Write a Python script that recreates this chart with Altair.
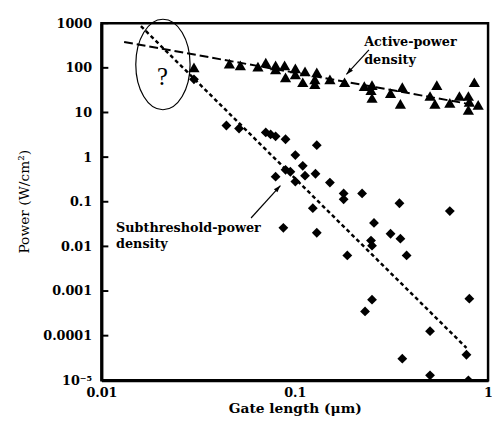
import altair as alt
import pandas as pd

# ---- data ----
# Active-power density (triangles)
active_x = [0.0301, 0.0459, 0.0523, 0.0645, 0.0708, 0.0796, 0.0886, 0.0796, 0.1007,
            0.113, 0.130, 0.1007, 0.0896, 0.110, 0.127, 0.127, 0.152, 0.181, 0.229,
            0.251, 0.248, 0.251, 0.313, 0.360, 0.352, 0.501, 0.543, 0.531, 0.634,
            0.711, 0.791, 0.849, 0.800, 0.889, 0.791]
active_y = [102, 125, 113, 107, 131, 113, 113, 92, 96.9,
            83.2, 79.1, 71.4, 61.4, 47.6, 55.4, 43.0, 55.4, 47.6, 38.9,
            40.9, 31.7, 21.1, 27.2, 36.9, 15.6, 23.4, 40.9, 15.6, 16.4,
            23.4, 23.4, 47.6, 17.3, 14.8, 11.5]

# Subthreshold-power density (diamonds)
sub_x = [0.0301, 0.0443, 0.0515, 0.0708, 0.0750, 0.0796, 0.0896, 0.130, 0.1007, 0.110,
         0.0896, 0.0949, 0.0796, 0.113, 0.128, 0.1007, 0.152, 0.179, 0.179, 0.223,
         0.348, 0.634, 0.124, 0.0873, 0.130, 0.257, 0.313, 0.352, 0.248, 0.251,
         0.187, 0.379, 0.251, 0.800, 0.231, 0.501, 0.773, 0.360, 0.501, 0.791]
sub_y = [55.4, 5.1, 4.38, 3.58, 3.23, 2.92, 2.51, 1.85, 1.11, 0.637,
         0.520, 0.470, 0.365, 0.384, 0.425, 0.283, 0.269, 0.154, 0.1135, 0.154,
         0.0927, 0.0618, 0.0719, 0.0261, 0.0202, 0.0336, 0.0192, 0.0149, 0.0135, 0.0104,
         0.00629, 0.00629, 0.000641, 0.000675, 0.000349, 0.000126, 3.74e-5, 3.05e-5, 1.29e-5, 1.0e-5]

# Trend lines
active_fit_x = [0.0131, 0.899]
active_fit_y = [381, 14.1]
sub_fit_x = [0.0160, 0.773]
sub_fit_y = [859, 5.33e-5]

# Axis ticks
x_tick_values = [0.01, 0.1, 1]
x_tick_labels = ["0.01", "0.1", "1"]
y_tick_values = [1000, 100, 10, 1, 0.1, 0.01, 0.001, 0.0001, 0.00001]
y_tick_labels = ["1000", "100", "10", "1", "0.1", "0.01", "0.001", "0.0001", "10⁻⁵"]

# Annotations
annot_text = ["Active-power", "density", "Subthreshold-power", "density"]
annot_x = [0.2286, 0.2286, 0.0119, 0.0119]
annot_y = [381, 153, 0.0261, 0.011]
arrow_x = [0.242, 0.0594]
arrow_y = [254, 0.0433]
arrow_x2 = [0.185, 0.0843]
arrow_y2 = [71.4, 0.231]
arrow_angle = [222.6, 42.3]
ellipse_x = [0.0208]
ellipse_y = [119]
qmark_x = [0.0207]
qmark_y = [61.4]

# ---- chart ----
SERIF = "DejaVu Serif"

def label_expr(values, labels):
    vals = ",".join(repr(v) for v in values)
    labs = ",".join("'" + l + "'" for l in labels)
    return f"[{labs}][indexof([{vals}], datum.value)]"

x_scale = alt.Scale(type="log", domain=[0.01, 1], nice=False)
y_scale = alt.Scale(type="log", domain=[0.00001, 1000], nice=False)

x_axis = alt.Axis(values=x_tick_values, labelExpr=label_expr(x_tick_values, x_tick_labels),
                  title="Gate length (μm)", titleFont=SERIF, titleFontSize=14,
                  titleFontWeight="bold", titleY=22, labelPadding=6,
                  labelFlush=False, ticks=False, grid=False)
y_axis = alt.Axis(values=y_tick_values, labelExpr=label_expr(y_tick_values, y_tick_labels),
                  title="Power  (W/cm²)", titleFont=SERIF, titleFontSize=14,
                  titleFontWeight="normal", titleX=-71, titleY=181, titleAngle=270,
                  labelPadding=10, labelFlush=False, ticks=False, grid=False)

def X(f):
    return alt.X(f, type="quantitative", scale=x_scale, axis=x_axis)

def Y(f):
    return alt.Y(f, type="quantitative", scale=y_scale, axis=y_axis)

active_df = pd.DataFrame({"x": active_x, "y": active_y})
sub_df = pd.DataFrame({"x": sub_x, "y": sub_y})
afit_df = pd.DataFrame({"x": active_fit_x, "y": active_fit_y})
sfit_df = pd.DataFrame({"x": sub_fit_x, "y": sub_fit_y})
annot_df = pd.DataFrame({"x": annot_x, "y": annot_y, "t": annot_text})
arrow_df = pd.DataFrame({"x": arrow_x, "y": arrow_y, "x2": arrow_x2, "y2": arrow_y2,
                         "a": arrow_angle})
ell_df = pd.DataFrame({"x": ellipse_x, "y": ellipse_y})
q_df = pd.DataFrame({"x": qmark_x, "y": qmark_y})
ytick_df = pd.DataFrame({"v": y_tick_values})

ellipse_path = ("M0,-1 C0.331,-1 0.6,-0.552 0.6,0 C0.6,0.552 0.331,1 0,1 "
                "C-0.331,1 -0.6,0.552 -0.6,0 C-0.6,-0.552 -0.331,-1 0,-1 Z")
head_path = "M0,0 L-0.6,1.8 L0.6,1.8 Z"

ticks_layer = alt.Chart(ytick_df).mark_rule(color="black", strokeWidth=2).encode(
    y=Y("v"), x=alt.value(0), x2=alt.value(7))

ellipse = alt.Chart(ell_df).mark_point(shape=ellipse_path, filled=False, color="black",
                                        strokeWidth=1.2, size=8464, opacity=1).encode(
    x=X("x"), y=Y("y"))

qmark = alt.Chart(q_df).mark_text(text="?", font="Liberation Serif", fontSize=25,
                                  color="black", baseline="middle").encode(
    x=X("x"), y=Y("y"))

afit = alt.Chart(afit_df).mark_line(color="black", strokeWidth=2,
                                    strokeDash=[9, 4]).encode(x=X("x"), y=Y("y"))
sfit = alt.Chart(sfit_df).mark_line(color="black", strokeWidth=2.5,
                                    strokeDash=[4, 3]).encode(x=X("x"), y=Y("y"))

tri = alt.Chart(active_df).mark_point(shape="triangle-up", filled=True, color="black",
                                      size=130, opacity=1).encode(x=X("x"), y=Y("y"))
dia = alt.Chart(sub_df).mark_point(shape="diamond", filled=True, color="black",
                                   size=100, opacity=1, clip=True).encode(x=X("x"), y=Y("y"))

arrows = alt.Chart(arrow_df).mark_rule(color="black", strokeWidth=1.2).encode(
    x=X("x"), y=Y("y"), x2="x2", y2="y2")
heads = alt.Chart(arrow_df).mark_point(shape=head_path, filled=True, color="black",
                                       size=64, opacity=1).encode(
    x=X("x2"), y=Y("y2"), angle=alt.Angle("a:Q", scale=None))

texts = alt.Chart(annot_df).mark_text(font=SERIF, fontSize=13, fontWeight="bold",
                                      align="left", baseline="middle",
                                      color="black").encode(
    x=X("x"), y=Y("y"), text="t:N")

chart = alt.layer(ellipse, qmark, afit, sfit, tri, dia, arrows, heads, texts,
                  ticks_layer).properties(
    width=393, height=363,
    padding={"left": 95, "top": 12, "right": 4, "bottom": 44},
    autosize=alt.AutoSizeParams(type="none"),
).configure_view(stroke="black", strokeWidth=2.5).configure_axis(
    domainColor="black", domainWidth=3, labelFont=SERIF, labelFontSize=13,
    labelFontWeight="bold", labelColor="black", titleColor="black",
)

chart.save("out.html", embed_options={"renderer": "svg", "actions": False})
